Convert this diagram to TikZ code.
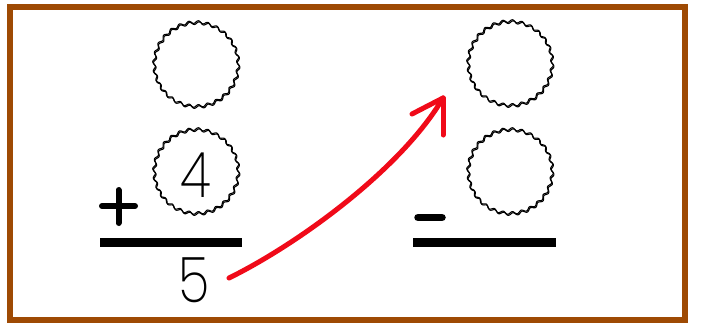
\documentclass[tikz,border=0pt]{standalone}
\usepackage{fontspec}
\setmainfont{Poppins ExtraLight}
\definecolor{framebrown}{RGB}{158,74,4}
\definecolor{arrowred}{RGB}{240,10,25}
\tikzset{
  scallop/.pic={
    \foreach \dx/\dy in {0/0,0.7/1.1}{
      \draw[line width=1.1pt] plot[domain=0:360,samples=841]
        ({\dx+(42+1.3*sin(28*\x))*cos(\x)}, {\dy+(42+1.3*sin(28*\x))*sin(\x)}) -- cycle;
    }
  },
  slot/.style={circle, minimum size=86pt, inner sep=0pt},
  digit/.style={inner sep=0pt, font=\fontsize{63}{63}\selectfont},
  bar/.style={line width=8.5pt, line cap=butt},
  sign/.style={line width=6pt, line cap=round},
  arrowline/.style={draw=arrowred, line width=5pt, line cap=round, line join=round},
}
\begin{document}
\begin{tikzpicture}[x=1pt,y=-1pt]
  \useasboundingbox (0,0) rectangle (706,322);
  \fill[white] (0,0) rectangle (706,322);
  \draw[framebrown, line width=6pt] (10,7) rectangle (685,319.5);

  % left column
  \node[slot] (l1) at (196,64) {};
  \node[slot] (l2) at (196,171) {};
  \pic at (l1) {scallop};
  \pic at (l2) {scallop};
  \node[digit] (d4) at (195.5,175) {\scalebox{0.82}[1]{4}};
  \draw[sign] (102,206) -- (135,206);
  \draw[sign] (118.5,190) -- (118.5,223);
  \draw[bar] (100,242.5) -- (242,242.5);
  \node[digit] (d5) at (194,280) {\scalebox{0.82}[1]{5}};

  % right column
  \node[slot] (r1) at (510,63) {};
  \node[slot] (r2) at (510,171) {};
  \pic at (r1) {scallop};
  \pic at (r2) {scallop};
  \draw[sign, line width=7.5pt] (418,217.5) -- (442,217.5);
  \draw[bar] (413,242.5) -- (556,242.5);

  % red arrow
  \coordinate (a0) at (229,278);
  \coordinate (a1) at (443,98);
  \draw[arrowline] (a0) .. controls (300,243) and (402,168) .. (a1);
  \draw[arrowline] (a1) -- ++(-31,16);
  \draw[arrowline] (a1) -- ++(0,37);
\end{tikzpicture}
\end{document}
